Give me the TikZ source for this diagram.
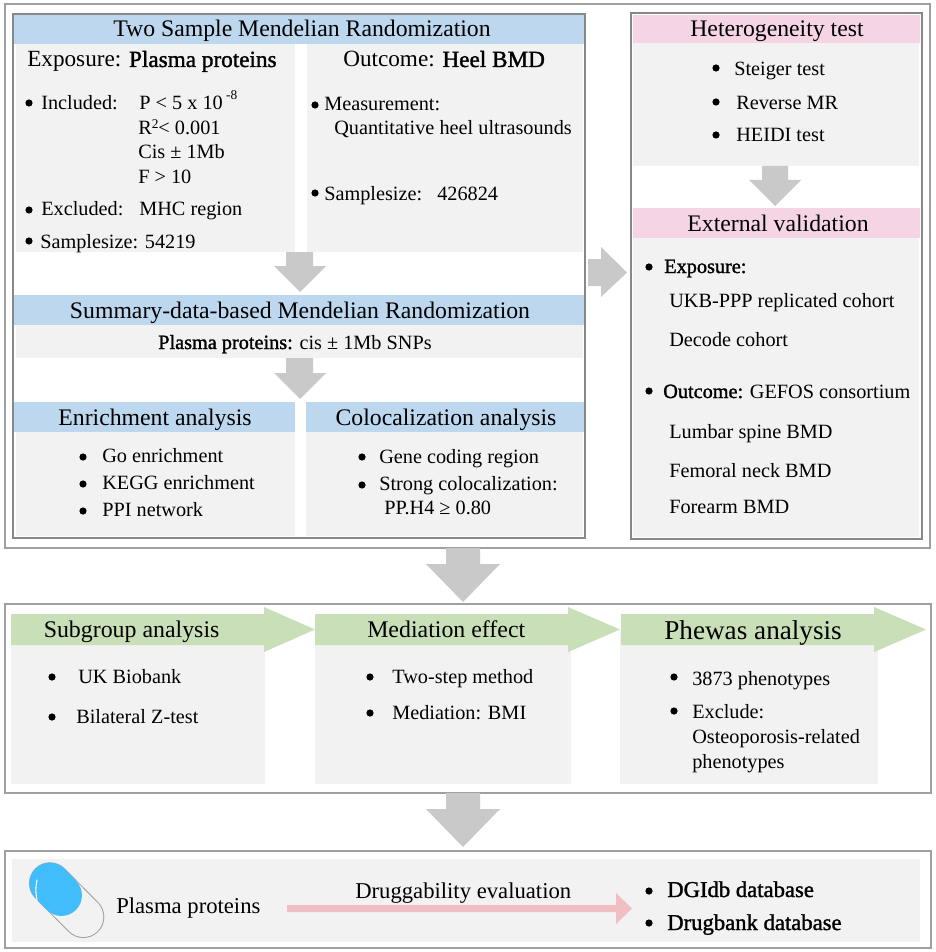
\documentclass[tikz,border=0pt]{standalone}
\usepackage{fontspec}
\setmainfont{Liberation Serif}
\newfontfamily\heavy[FakeBold=1.4]{Liberation Serif}
\usetikzlibrary{fit}
\definecolor{hblue}{HTML}{BDD7EE}
\definecolor{hpink}{HTML}{F5D5E5}
\definecolor{hgreen}{HTML}{C9DFB8}
\definecolor{panel}{HTML}{F2F2F2}
\definecolor{flow}{HTML}{C9C9C9}
\definecolor{frame}{HTML}{A0A0A0}
\definecolor{pinkarrow}{HTML}{F0BFC4}
\definecolor{pillblue}{HTML}{42BDFB}
\tikzset{
  x=0.75pt, y=-0.75pt,
  outerframe/.style={draw=frame, line width=1.1pt, fill=white, inner sep=0pt},
  innerframe/.style={draw=frame!85!black, line width=1.1pt, fill=white, inner sep=0pt},
  panelbox/.style={fill=panel, inner sep=0pt},
  bluehead/.style={fill=hblue, inner sep=0pt},
  pinkhead/.style={fill=hpink, inner sep=0pt},
  flowarrow/.style={fill=flow},
  greenarrow/.style={fill=hgreen},
  tl/.style={anchor=base west, inner sep=0pt, text=black},
  tc/.style={anchor=base, inner sep=0pt, text=black},
  big/.style={font=\fontsize{17.8}{20}\selectfont},
  mid/.style={font=\fontsize{15.2}{17}\selectfont},
  low/.style={font=\fontsize{17}{19}\selectfont},
  cap1/.style={font=\fontsize{17.4}{19}\selectfont},
  rowt/.style={font=\fontsize{17.9}{20}\selectfont},
  dot/.style={fill=black},
}
\newcommand{\blockdown}[8]{%
  \fill[flowarrow] (#2,#6) -- (#3,#6) -- (#3,#7) -- (#5,#7) -- (#1,#8) -- (#4,#7) -- (#2,#7) -- cycle;}
\newcommand{\greenflow}[7]{%
  \fill[greenarrow] (#1,#4) -- (#2,#4) -- (#2,#6) -- (#3,{(#4+#5)/2}) -- (#2,#7) -- (#2,#5) -- (#1,#5) -- cycle;}
\newcommand{\bul}[2]{\fill[dot] (#1,#2) circle[radius=3.6];}
\begin{document}
\begin{tikzpicture}
\useasboundingbox (0,0) rectangle (935,952);
\fill[white] (0,0) rectangle (935,952);

% outer frames
\node[outerframe, fit={(5,4)(930,548)}] (frameA) {};
\node[outerframe, fit={(5,604)(931,793)}] (frameB) {};
\node[outerframe, fit={(5,851)(931,948)}] (frameC) {};

% main boxes
\node[innerframe, fit={(13,14)(585,538)}] (mainbox) {};
\node[innerframe, fit={(631,13)(922,539)}] (rightbox) {};

% main box panels
\node[bluehead, fit={(14,15)(584,44)}] (tsmrhead) {};
\node[panelbox, fit={(16,44)(295,252)}] (exppanel) {};
\node[panelbox, fit={(307,44)(583,252)}] (outpanel) {};
\node[bluehead, fit={(14,295)(584,325)}] (smrhead) {};
\node[panelbox, fit={(16,325)(583,358)}] (smrpanel) {};
\node[bluehead, fit={(14,402)(294.5,432)}] (enrhead) {};
\node[panelbox, fit={(16,432)(294.5,536)}] (enrpanel) {};
\node[bluehead, fit={(306,402)(584,432)}] (colhead) {};
\node[panelbox, fit={(306,432)(583,536)}] (colpanel) {};

% right box panels
\node[pinkhead, fit={(633,15)(920,43)}] (hethead) {};
\node[panelbox, fit={(633,43)(919,166)}] (hetpanel) {};
\node[pinkhead, fit={(633,208)(920,238)}] (exthead) {};
\node[panelbox, fit={(633,238)(919,537)}] (extpanel) {};

% flow arrows
\blockdown{300}{286}{313}{274}{326}{252}{266}{292}
\blockdown{300}{286}{313}{274}{326}{358}{373}{399}
\blockdown{775}{762}{788}{749}{801}{166}{180}{206}
\blockdown{463}{446}{480}{426}{500}{548}{564}{602}
\blockdown{463}{446}{480}{426}{500}{793}{809}{847}
\fill[flowarrow] (588,259) -- (601,259) -- (601,247) -- (627,272.5) -- (601,297) -- (601,286) -- (588,286) -- cycle;

% row panels
\node[panelbox, fit={(11,630)(265,784)}] (subpanel) {};
\node[panelbox, fit={(315,630)(571,784)}] (medpanel) {};
\node[panelbox, fit={(620,630)(878,784)}] (phepanel) {};
\greenflow{11}{264}{315}{614}{645}{607}{652}
\greenflow{315}{568}{620}{614}{645}{607}{652}
\greenflow{621}{874}{926}{614}{645}{607}{652}

% bottom panel
\node[panelbox, fit={(12,859)(920,942)}] (drugpanel) {};
\draw[line width=31.5pt, color=frame, line cap=round] (50,883.3) -- (83.3,917);
\draw[line width=30pt, color=panel, line cap=round] (50,883.3) -- (83.3,917);
\draw[line width=30.8pt, color=pillblue, line cap=round] (50,883.3) -- (61.4,895.4);
\draw[white, line width=0.8pt, line cap=round] (37,880) .. controls (35.5,887) and (35.5,893) .. (37,900);
\fill[pinkarrow] (287,905) -- (616,905) -- (616,893) -- (632,908.5) -- (616,924) -- (616,912) -- (287,912) -- cycle;

% titles
\node[tc,big] (tsmrtitle) at (302,37) {Two Sample Mendelian Randomization};
\node[tc,big] (smrtitle) at (300,318) {Summary-data-based Mendelian Randomization};
\node[tc,big] (enrtitle) at (155,425) {Enrichment analysis};
\node[tc,big] (coltitle) at (446,425) {Colocalization analysis};
\node[tc,big] (hettitle) at (777,37) {Heterogeneity test};
\node[tc,big] (exttitle) at (778,232) {External validation};

% exposure
\node[tl,cap1] (exptitle) at (27,67) {Exposure: {\heavy Plasma proteins}};
\bul{29}{103}
\node[tl,mid] (inc) at (41,110) {Included:};
\node[tl,mid] (incp) at (139,110) {P < 5 x 10\,\raisebox{1.1ex}{\fontsize{10}{10}\selectfont -8}};
\node[tl,mid] (incr) at (138,135) {R\raisebox{.75ex}{\fontsize{10}{10}\selectfont 2}< 0.001};
\node[tl,mid] (inccis) at (138,159) {Cis ± 1Mb};
\node[tl,mid] (incf) at (138,184) {F > 10};
\bul{29}{210}
\node[tl,mid] (exc) at (41,216) {Excluded:};
\node[tl,mid] (excm) at (139,216) {MHC region};
\bul{29}{241}
\node[tl,mid] (expn) at (40,248) {Samplesize: 54219};

% outcome
\node[tl,cap1] (outtitle) at (343,67) {Outcome: {\heavy Heel BMD}};
\bul{315}{105}
\node[tl,mid] (meas) at (324,111) {Measurement:};
\node[tl,mid] (quant) at (334,135) {Quantitative heel ultrasounds};
\bul{315}{193}
\node[tl,mid] (outn) at (324,201) {Samplesize:};
\node[tl,mid] (outnv) at (437,201) {426824};

% SMR
\node[tl,mid] (smrtext) at (158,349) {{\heavy Plasma proteins:} cis ± 1Mb SNPs};

% enrichment
\bul{83}{457}
\node[tl,mid] (go) at (102,462) {Go enrichment};
\bul{83}{484}
\node[tl,mid] (kegg) at (102,489) {KEGG enrichment};
\bul{83}{511}
\node[tl,mid] (ppi) at (102,516) {PPI network};

% colocalization
\bul{362}{457}
\node[tl,mid] (gene) at (379,463) {Gene coding region};
\bul{362}{485}
\node[tl,mid] (strong) at (379,490) {Strong colocalization:};
\node[tl,mid] (pph) at (384,514) {PP.H4 ≥ 0.80};

% heterogeneity
\bul{716}{68}
\node[tl,mid] (steiger) at (734,76) {Steiger test};
\bul{716}{102}
\node[tl,mid] (reverse) at (736,110) {Reverse MR};
\bul{716}{135}
\node[tl,mid] (heidi) at (736,142) {HEIDI test};

% external
\bul{649}{267}
\node[tl,mid] (extexp) at (664,273) {{\heavy Exposure:}};
\node[tl,mid] (ukb) at (669,307) {UKB-PPP replicated cohort};
\node[tl,mid] (decode) at (669,346) {Decode cohort};
\bul{649}{391}
\node[tl,mid] (extout) at (663,398) {{\heavy Outcome:} GEFOS consortium};
\node[tl,mid] (lumbar) at (669,438) {Lumbar spine BMD};
\node[tl,mid] (femoral) at (669,477) {Femoral neck BMD};
\node[tl,mid] (forearm) at (669,513) {Forearm BMD};

% row
\node[tl,rowt] (subtitle) at (43.5,637) {Subgroup analysis};
\node[tl,rowt] (medtitle) at (367,637) {Mediation effect};
\node[tl,font=\fontsize{20.4}{23}\selectfont] (phetitle) at (664,639) {Phewas analysis};
\bul{52}{677}
\node[tl,mid] (ukbb) at (78,683) {UK Biobank};
\bul{52}{717}
\node[tl,mid] (zt) at (76,723) {Bilateral Z-test};
\bul{370}{677}
\node[tl,mid] (twostep) at (392,683) {Two-step method};
\bul{370}{713}
\node[tl,mid] (medbmi) at (392,719) {Mediation: BMI};
\bul{674}{677}
\node[tl,mid] (pheno) at (692,685) {3873 phenotypes};
\bul{674}{711}
\node[tl,mid] (excl) at (692,718) {Exclude:};
\node[tl,mid] (osteo) at (692,743) {Osteoporosis-related};
\node[tl,mid] (phen2) at (692,768) {phenotypes};

% bottom
\node[tl,low] (pptext) at (116,913) {Plasma proteins};
\node[tl,low] (druglabel) at (355,898) {Druggability evaluation};
\bul{649}{891}
\node[tl,low] (dgi) at (667,897) {{\heavy DGIdb database}};
\bul{649}{923}
\node[tl,low] (dbank) at (667,930) {{\heavy Drugbank database}};
\end{tikzpicture}
\end{document}
